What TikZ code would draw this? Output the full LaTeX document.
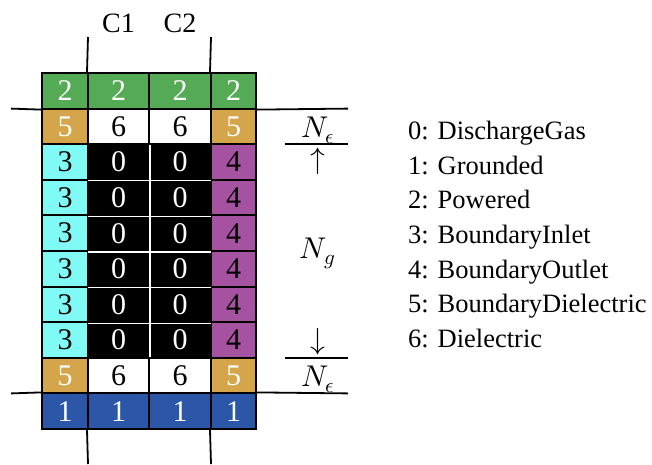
\documentclass[tikz,border=0pt]{standalone}
\usepackage{fontspec}
\setmainfont{Liberation Serif}
\newfontfamily\mathglyphs{Latin Modern Math}
\newcommand{\Nsub}[1]{{\fontsize{30}{34}\selectfont\mathglyphs 𝑁\raisebox{-6pt}{\fontsize{21}{21}\selectfont #1}}}
\definecolor{cgreen}{HTML}{55AA55}
\definecolor{ctan}{HTML}{D4A54A}
\definecolor{ccyan}{HTML}{80FAF5}
\definecolor{cpurple}{HTML}{A552A0}
\definecolor{cblue}{HTML}{2C56A8}
\tikzset{
  cellbox/.style={draw=black, line width=2pt, rectangle, inner sep=0pt,
    minimum height=35.6pt, font=\fontsize{30}{34}\selectfont},
  k0/.style={cellbox, fill=black, text=white},
  k1/.style={cellbox, fill=cblue, text=white},
  k2/.style={cellbox, fill=cgreen, text=white},
  k3/.style={cellbox, fill=ccyan, text=black},
  k4/.style={cellbox, fill=cpurple, text=black},
  k5/.style={cellbox, fill=ctan, text=white},
  k6/.style={cellbox, fill=white, text=black},
  rule/.style={line width=1.8pt, black},
  inner/.style={line width=1.3pt, white},
  legend/.style={anchor=base west, inner sep=0pt, font=\fontsize{26.5}{32}\selectfont},
  mlabel/.style={inner sep=0pt},
  colhead/.style={anchor=base, inner sep=0pt, font=\fontsize{28}{34}\selectfont}
}
\begin{document}
\begin{tikzpicture}[x=1pt,y=-1pt]
\useasboundingbox (0,0) rectangle (652,464);
% grid cells
\foreach \r/\L/\M/\R in {0/2/2/2,1/5/6/5,2/3/0/4,3/3/0/4,4/3/0/4,5/3/0/4,6/3/0/4,7/3/0/4,8/5/6/5,9/1/1/1}{
  \pgfmathsetmacro\yc{73+35.6*(\r+0.5)}
  \node[k\L, minimum width=46pt] (n-\r-1) at (65,\yc) {\L};
  \node[k\M, minimum width=61pt] (n-\r-2) at (118.5,\yc) {\M};
  \node[k\M, minimum width=62pt] (n-\r-3) at (180,\yc) {\M};
  \node[k\R, minimum width=45pt] (n-\r-4) at (233.5,\yc) {\R};
}
% white inner lines in the black region
\draw[inner] ([yshift=-1.5pt]n-2-2.north east) -- ([yshift=1.5pt]n-7-2.south east);
\foreach \r in {2,...,6}{
  \draw[inner] ([xshift=1pt]n-\r-2.south west) -- ([xshift=-1pt]n-\r-3.south east);
}
% column extension lines
\coordinate (t1) at (88,37);
\coordinate (t2) at (211,37);
\coordinate (b1) at (88,464);
\coordinate (b2) at (211,464);
\draw[rule] (n-0-2.north west) -- (t1);
\draw[rule] (n-0-4.north west) -- (t2);
\draw[rule] (n-9-2.south west) -- (b1);
\draw[rule] (n-9-4.south west) -- (b2);
% long horizontal lines
\coordinate (h1l) at (11,108.6);
\coordinate (h1r) at (348,108.6);
\coordinate (h2l) at (11,393.4);
\coordinate (h2r) at (348,393.4);
\draw[rule] (h1l) -- (n-0-1.south west);
\draw[rule] (n-0-4.south east) -- (h1r);
\draw[rule] (h2l) -- (n-9-1.north west);
\draw[rule] (n-9-4.north east) -- (h2r);
% column headers
\node[colhead] (c1) at (118.5,32) {C1};
\node[colhead] (c2) at (180,32) {C2};
% right side annotations
\node[mlabel, anchor=base] (ne1) at (318,137) {\Nsub{𝜖}};
\coordinate (s1l) at (285,144.2);
\coordinate (s1r) at (348,144.2);
\draw[rule] (s1l) -- (s1r);
\node[mlabel] (up) at (318,161) {\fontsize{30}{34}\selectfont\mathglyphs ↑};
\node[mlabel, anchor=base] (ng) at (317,258) {\Nsub{𝑔}};
\node[mlabel] (down) at (318,342) {\fontsize{30}{34}\selectfont\mathglyphs ↓};
\coordinate (s2l) at (285,358);
\coordinate (s2r) at (348,358);
\draw[rule] (s2l) -- (s2r);
\node[mlabel, anchor=base] (ne2) at (318,386) {\Nsub{𝜖}};
% legend
\node[legend] (l0) at (408,139.3) {0: DischargeGas};
\node[legend] (l1) at (408,174.0) {1: Grounded};
\node[legend] (l2) at (408,208.7) {2: Powered};
\node[legend] (l3) at (408,243.4) {3: BoundaryInlet};
\node[legend] (l4) at (408,278.1) {4: BoundaryOutlet};
\node[legend] (l5) at (408,312.8) {5: BoundaryDielectric};
\node[legend] (l6) at (408,347.5) {6: Dielectric};
\end{tikzpicture}
\end{document}
